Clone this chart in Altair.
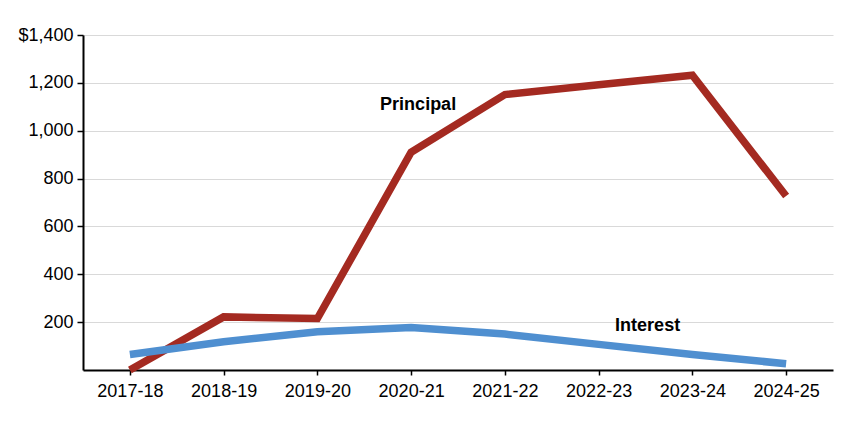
import altair as alt
import pandas as pd

years = ["2017-18", "2018-19", "2019-20", "2020-21", "2021-22", "2022-23", "2023-24", "2024-25"]
principal = [0, 222, 215, 910, 1151, 1192, 1232, 727]
interest = [65, 118, 160, 178, 150, 107, 65, 26]

label_text = ["Principal", "Interest"]
label_year = ["2020-21", "2022-23"]
label_value = [1106, 184]
label_dx = [7, 49]

series_names = ["Principal", "Interest"]
series_colors = ["#A42A21", "#4F8FD0"]

rows = []
for y, p, i in zip(years, principal, interest):
    rows.append({"year": y, "series": "Principal", "value": p})
    rows.append({"year": y, "series": "Interest", "value": i})
df = pd.DataFrame(rows)

labels = pd.DataFrame({"text": label_text, "year": label_year, "value": label_value, "dx": label_dx})

FONT = "Liberation Sans"

x = alt.X("year:N", sort=years, title=None,
          scale=alt.Scale(type="point", padding=0.5),
          axis=alt.Axis(labelAngle=0, labelFontSize=18, labelFont=FONT, labelColor="#000",
                        domainColor="#000", domainWidth=2, tickColor="#000", tickWidth=1.5,
                        tickSize=5, labelPadding=7, grid=False))
y = alt.Y("value:Q", title=None,
          scale=alt.Scale(domain=[0, 1400], nice=False),
          axis=alt.Axis(values=[200, 400, 600, 800, 1000, 1200, 1400],
                        labelExpr="datum.value == 1400 ? '$1,400' : format(datum.value, ',')",
                        labelFontSize=18, labelFont=FONT, labelColor="#000",
                        domainColor="#000", domainWidth=2, tickColor="#000", tickWidth=1.5,
                        tickSize=6, labelPadding=4, grid=True, gridColor="#d9d9d9", gridWidth=1))

lines = alt.Chart(df).mark_line(strokeWidth=7.5, strokeCap="butt", strokeJoin="miter", clip=False).encode(
    x=x, y=y,
    color=alt.Color("series:N", scale=alt.Scale(domain=series_names, range=series_colors), legend=None),
    detail="series:N",
)

text = alt.Chart(labels).mark_text(font=FONT, fontSize=18, fontWeight="bold", color="#000",
                                   align="center", baseline="middle").encode(
    x=alt.X("year:N", sort=years, scale=alt.Scale(type="point", padding=0.5)),
    y=alt.Y("value:Q", scale=alt.Scale(domain=[0, 1400], nice=False)),
    text="text:N",
    xOffset=alt.XOffset("dx:Q", scale=None),
)

chart = alt.layer(lines, text).properties(
    width=750, height=335,
    autosize=alt.AutoSizeParams(type="none"),
    padding={"left": 75, "top": 27, "right": 8, "bottom": 50},
    background="#ffffff",
).configure_view(stroke=None)

chart.save("out.html", embed_options={"renderer": "svg", "actions": False})
